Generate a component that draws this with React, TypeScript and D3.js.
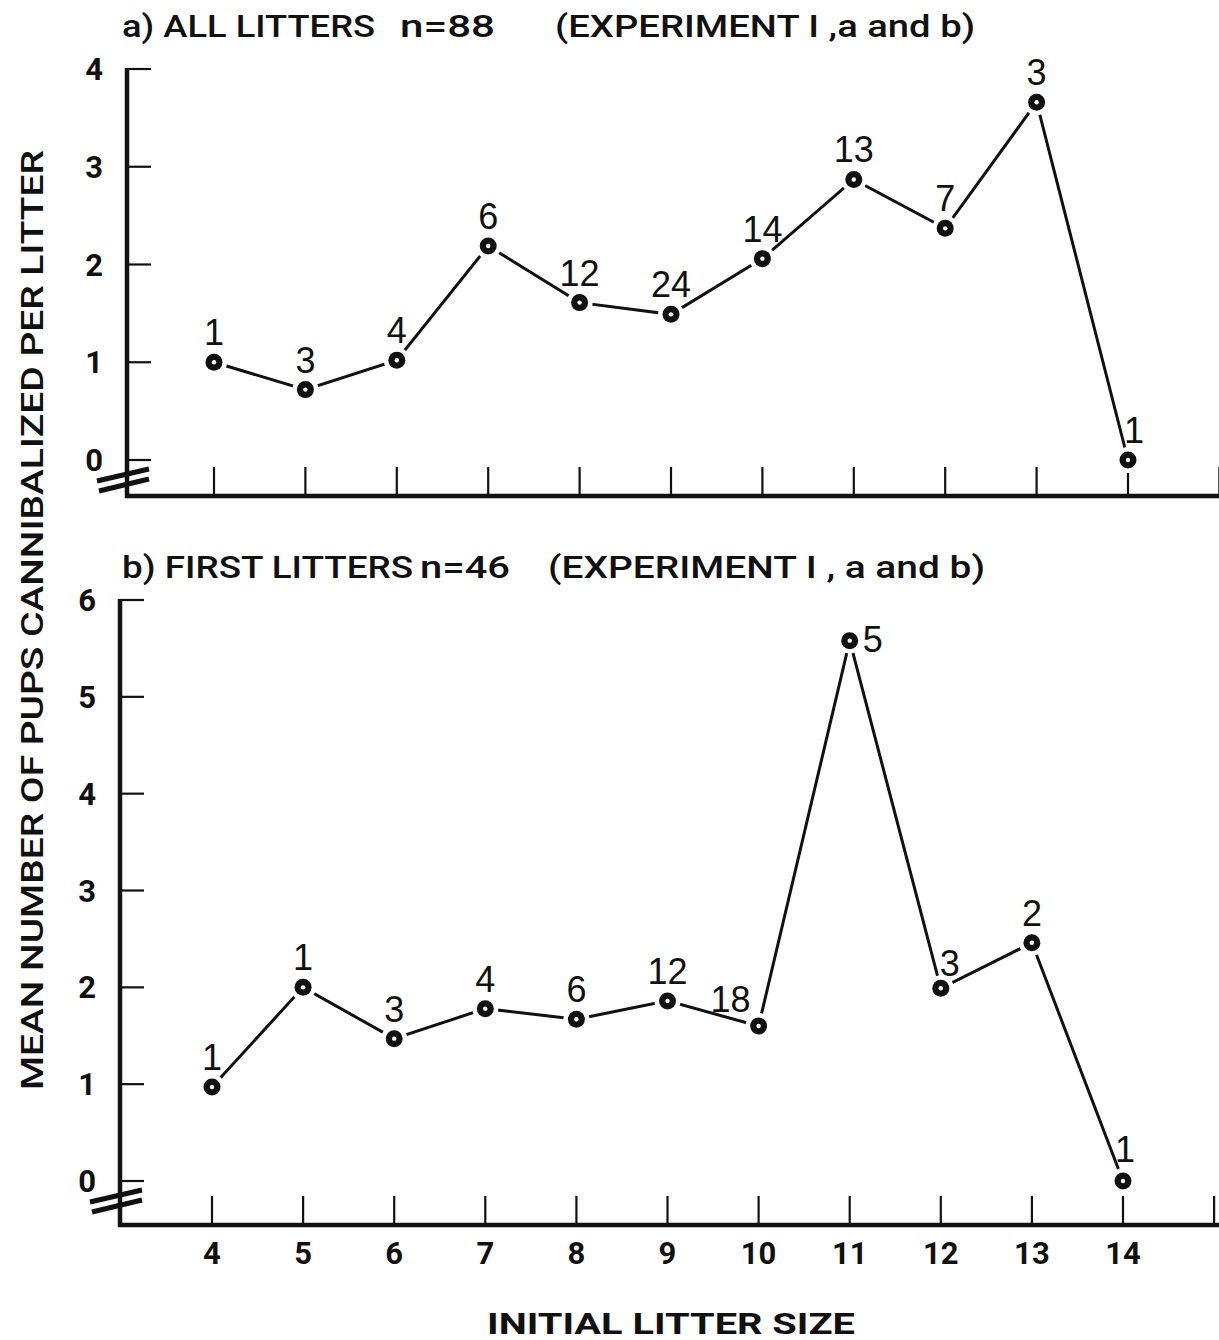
import React from "react";
import * as d3 from "d3";

// initial litter size on the x axis
const litterSizes = [4, 5, 6, 7, 8, 9, 10, 11, 12, 13, 14];
const xTicks = [4, 5, 6, 7, 8, 9, 10, 11, 12, 13, 14, 15];
const xTickLabels = [4, 5, 6, 7, 8, 9, 10, 11, 12, 13, 14];

// a) all litters
const meanAll = [1.0, 0.72, 1.02, 2.19, 1.61, 1.49, 2.06, 2.87, 2.37, 3.66, 0];
const countAll = [1, 3, 4, 6, 12, 24, 14, 13, 7, 3, 1];
const yTicksAll = [0, 1, 2, 3, 4];

// b) first litters
const meanFirst = [0.97, 2.0, 1.47, 1.78, 1.67, 1.86, 1.6, 5.58, 1.99, 2.46, 0];
const countFirst = [1, 1, 3, 4, 6, 12, 18, 5, 3, 2, 1];
const yTicksFirst = [0, 1, 2, 3, 4, 5, 6];

const W = 1219;
const H = 1340;
const INK = "#111";
const BOLD_FONT = "Roboto, Liberation Sans, Arial, sans-serif";
const LABEL_FONT = "Liberation Sans, Arial, sans-serif";

type Nudge = { dx: number; dy: number; anchor: "start" | "middle" | "end" };
const defaultNudge: Nudge = { dx: 0, dy: -17, anchor: "middle" };

const Panel = ({
  values,
  counts,
  yTicks,
  xScale,
  yScale,
  axisX,
  axisY,
  nudges,
}: {
  values: number[];
  counts: number[];
  yTicks: number[];
  xScale: d3.ScaleLinear<number, number>;
  yScale: d3.ScaleLinear<number, number>;
  axisX: number;
  axisY: number;
  nudges: Record<number, Nudge>;
}) => {
  const pts = litterSizes.map((s, i) => [xScale(s), yScale(values[i])] as [number, number]);
  const line = d3.line<[number, number]>()(pts) || "";
  const y0 = yScale(0);
  const yTop = yScale(d3.max(yTicks) as number);

  return (
    <g>
      {/* y axis */}
      <line x1={axisX} x2={axisX} y1={yTop - 1} y2={axisY + 2} stroke={INK} strokeWidth={4.5} />
      {yTicks.map((t) => (
        <g key={t}>
          <line x1={axisX} x2={axisX + 24} y1={yScale(t)} y2={yScale(t)} stroke={INK} strokeWidth={2.2} />
          <text
            x={axisX - 24}
            y={yScale(t) + 11}
            textAnchor="end"
            fontFamily={BOLD_FONT}
            fontWeight={700}
            fontSize={31}
            fill={INK}
          >
            {t}
          </text>
        </g>
      ))}
      {/* axis break */}
      <line x1={axisX - 30} y1={y0 + 21} x2={axisX + 22} y2={y0 + 9} stroke={INK} strokeWidth={5} />
      <line x1={axisX - 28} y1={y0 + 31} x2={axisX + 22} y2={y0 + 19} stroke={INK} strokeWidth={5} />
      {/* x axis */}
      <line x1={axisX - 2} x2={W} y1={axisY} y2={axisY} stroke={INK} strokeWidth={4.5} />
      {xTicks.map((t) => (
        <line key={t} x1={xScale(t)} x2={xScale(t)} y1={axisY - 29} y2={axisY} stroke={INK} strokeWidth={2.2} />
      ))}
      {/* series */}
      <path d={line} fill="none" stroke={INK} strokeWidth={3} />
      {pts.map(([x, y], i) => (
        <circle key={"h" + i} cx={x} cy={y} r={13} fill="#fff" />
      ))}
      {pts.map(([x, y], i) => (
        <g key={"m" + i}>
          <circle cx={x} cy={y} r={8.5} fill={INK} />
          <circle cx={x} cy={y} r={2.2} fill="#fff" />
        </g>
      ))}
      {pts.map(([x, y], i) => {
        const n = nudges[litterSizes[i]] || defaultNudge;
        return (
          <text
            key={"l" + i}
            x={x + n.dx}
            y={y + n.dy}
            textAnchor={n.anchor}
            fontFamily={LABEL_FONT}
            fontSize={36}
            fill={INK}
          >
            {counts[i]}
          </text>
        );
      })}
    </g>
  );
};

export default function App() {
  const xA = d3.scaleLinear().domain([4, 14]).range([214, 1128]);
  const yA = d3.scaleLinear().domain([0, 4]).range([460, 69]);
  const xB = d3.scaleLinear().domain([4, 14]).range([212, 1123]);
  const yB = d3.scaleLinear().domain([0, 6]).range([1181, 600]);

  const titleFont = {
    fontFamily: BOLD_FONT,
    fontWeight: 500,
    fontSize: 31,
    fill: INK,
  };

  return (
    <svg
      width={W}
      height={H}
      style={{ position: "absolute", left: 0, top: 0, background: "#fff" }}
    >
      <rect width={W} height={H} fill="#fff" />

      {/* panel titles */}
      <text x={122} y={37} textLength={253} lengthAdjust="spacingAndGlyphs" {...titleFont}>a) ALL LITTERS</text>
      <text x={400} y={37} textLength={95} lengthAdjust="spacingAndGlyphs" {...titleFont}>n=88</text>
      <text x={555} y={37} textLength={420} lengthAdjust="spacingAndGlyphs" {...titleFont}>(EXPERIMENT I ,a and b)</text>

      <text x={122} y={578} textLength={291} lengthAdjust="spacingAndGlyphs" {...titleFont}>b) FIRST LITTERS</text>
      <text x={420} y={578} textLength={90} lengthAdjust="spacingAndGlyphs" {...titleFont}>n=46</text>
      <text x={548} y={578} textLength={437} lengthAdjust="spacingAndGlyphs" {...titleFont}>(EXPERIMENT I , a and b)</text>

      <Panel
        values={meanAll}
        counts={countAll}
        yTicks={yTicksAll}
        xScale={xA}
        yScale={yA}
        axisX={127}
        axisY={496}
        nudges={{ 14: { dx: 6, dy: -17, anchor: "middle" } }}
      />
      <Panel
        values={meanFirst}
        counts={countFirst}
        yTicks={yTicksFirst}
        xScale={xB}
        yScale={yB}
        axisX={120}
        axisY={1225}
        nudges={{
          10: { dx: -8, dy: -14, anchor: "end" },
          11: { dx: 13, dy: 11, anchor: "start" },
          12: { dx: 9, dy: -12, anchor: "middle" },
          14: { dx: 2, dy: -19, anchor: "middle" },
        }}
      />

      {/* x tick labels under panel b */}
      {xTickLabels.map((t) => (
        <text
          key={t}
          x={xB(t)}
          y={1264}
          textAnchor="middle"
          fontFamily={BOLD_FONT}
          fontWeight={700}
          fontSize={31}
          fill={INK}
        >
          {t}
        </text>
      ))}

      {/* axis titles */}
      <text
        x={487}
        y={1334}
        textLength={368}
        lengthAdjust="spacingAndGlyphs"
        fontFamily={BOLD_FONT}
        fontWeight={700}
        fontSize={30}
        fill={INK}
      >
        INITIAL LITTER SIZE
      </text>
      <text
        transform="translate(43,1090) rotate(-90)"
        textLength={940}
        lengthAdjust="spacingAndGlyphs"
        fontFamily={BOLD_FONT}
        fontWeight={500}
        fontSize={32}
        fill={INK}
      >
        MEAN NUMBER OF PUPS CANNIBALIZED PER LITTER
      </text>
    </svg>
  );
}
